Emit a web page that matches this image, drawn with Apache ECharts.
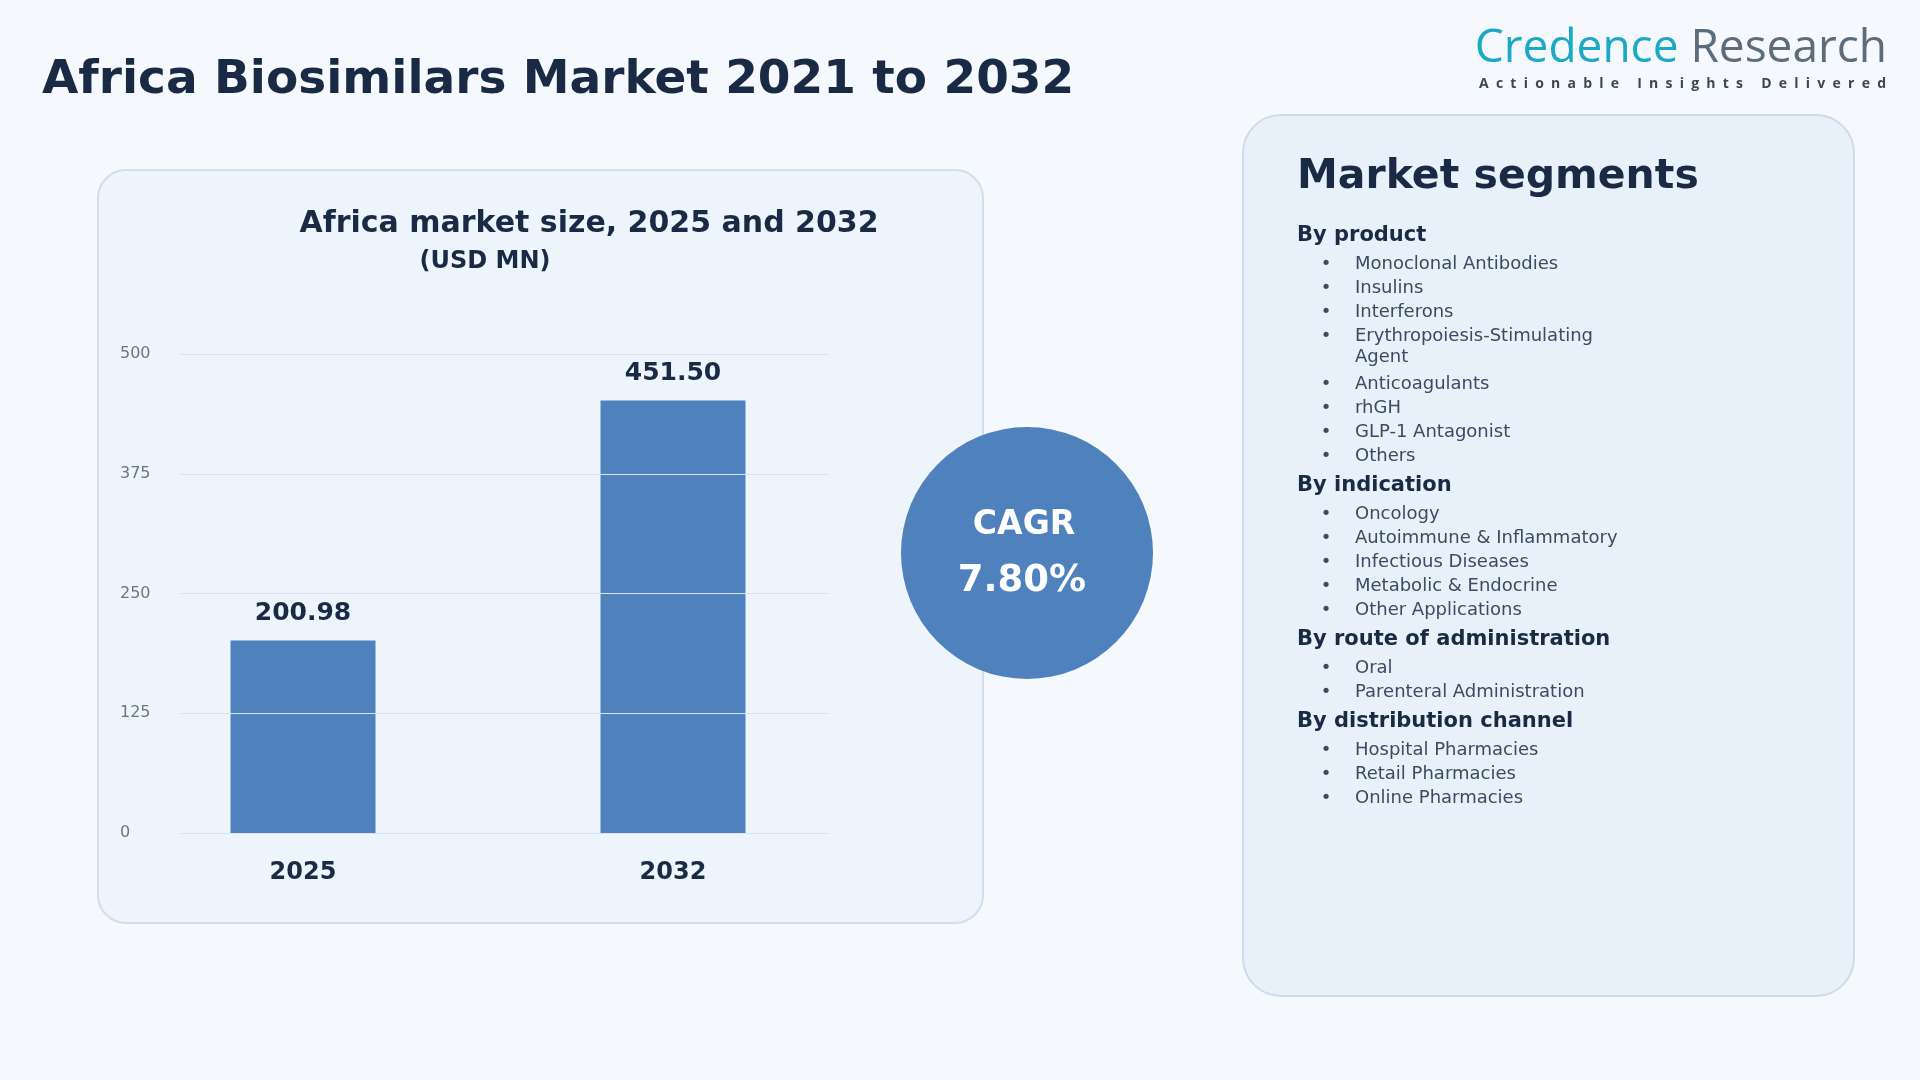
<!DOCTYPE html>
<html>
<head>
<meta charset="utf-8">
<title>Africa Biosimilars Market 2021 to 2032</title>
<script src="https://cdn.jsdelivr.net/npm/echarts@6.0.0/dist/echarts.min.js"></script>
<style>
  html, body { margin: 0; padding: 0; background: #f5f8fc; }
  #main { width: 1920px; height: 1080px; }
</style>
</head>
<body>
<div id="main"></div>
<script>
// chart data
const categories = ['2025', '2032'];
const marketValues = [200.98, 451.50];
const yMin = 0;
const yMax = 500;
const yStep = 125;
const cagrLabel = 'CAGR';
const cagrValue = '7.80%';

// texts
const mainTitle = 'Africa Biosimilars Market 2021 to 2032';
const chartTitle = 'Africa market size, 2025 and 2032';
const chartUnit = '(USD MN)';
const brandA = 'Credence';
const brandB = 'Research';
const tagline = 'Actionable Insights Delivered';

// market segments
const segmentsTitle = 'Market segments';
const segmentHeads = ['By product', 'By indication', 'By route of administration', 'By distribution channel'];
const byProduct = ['Monoclonal Antibodies', 'Insulins', 'Interferons', 'Erythropoiesis-Stimulating\nAgent', 'Anticoagulants', 'rhGH', 'GLP-1 Antagonist', 'Others'];
const byIndication = ['Oncology', 'Autoimmune & Inflammatory', 'Infectious Diseases', 'Metabolic & Endocrine', 'Other Applications'];
const byRoute = ['Oral', 'Parenteral Administration'];
const byChannel = ['Hospital Pharmacies', 'Retail Pharmacies', 'Online Pharmacies'];
const segmentItems = [byProduct, byIndication, byRoute, byChannel];

const FONT = '"DejaVu Sans", sans-serif';
const NAVY = '#1b2a44';

var chart = echarts.init(document.getElementById('main'));

function buildGraphic() {
  var g = [];
  // panels
  g.push({ type: 'rect', z: -1, shape: { x: 98, y: 170, width: 885, height: 753, r: 28 },
    style: { fill: '#edf4fc', stroke: '#d3deeb', lineWidth: 2 } });
  g.push({ type: 'rect', z: -1, shape: { x: 1243, y: 115, width: 611, height: 881, r: 38 },
    style: { fill: '#e8f0fa', stroke: '#cfdbe8', lineWidth: 2 } });

  // page title
  g.push({ type: 'text', z: 10, style: { text: mainTitle, x: 42, y: 81, font: 'bold 47px ' + FONT,
    fill: NAVY, textAlign: 'left', textVerticalAlign: 'middle' } });

  // chart titles
  g.push({ type: 'text', z: 10, style: { text: chartTitle, x: 589, y: 224, font: 'bold 30px ' + FONT,
    fill: NAVY, textAlign: 'center', textVerticalAlign: 'middle' } });
  g.push({ type: 'text', z: 10, style: { text: chartUnit, x: 485, y: 262, font: 'bold 24px ' + FONT,
    fill: NAVY, textAlign: 'center', textVerticalAlign: 'middle' } });

  // CAGR bubble
  g.push({ type: 'circle', z: 10, shape: { cx: 1027, cy: 553, r: 126 }, style: { fill: '#4f81bd' } });
  g.push({ type: 'text', z: 11, style: { text: cagrLabel, x: 1024, y: 525, font: 'bold 33px ' + FONT,
    fill: '#ffffff', textAlign: 'center', textVerticalAlign: 'middle' } });
  g.push({ type: 'text', z: 11, style: { text: cagrValue, x: 1022, y: 581, font: 'bold 37px ' + FONT,
    fill: '#ffffff', textAlign: 'center', textVerticalAlign: 'middle' } });

  // logo
  g.push({ type: 'text', z: 10, style: {
    text: '{a|' + brandA + '\u00a0}{b|' + brandB + '}', x: 1887, y: 49,
    textAlign: 'right', textVerticalAlign: 'middle',
    rich: {
      a: { font: '46px "Open Sans", sans-serif', fill: '#1ba9c6' },
      b: { font: '46px "Open Sans", sans-serif', fill: '#5c6c7b' }
    }
  } });
  // spaced tagline
  var ctx = document.createElement('canvas').getContext('2d');
  var tagFont = 'bold 14px "Open Sans", sans-serif';
  ctx.font = tagFont;
  var chars = tagline.split('');
  var widths = chars.map(function (c) { return ctx.measureText(c).width; });
  var total = widths.reduce(function (a, b) { return a + b; }, 0);
  var gap = (1886 - 1479 - total) / (chars.length - 1);
  var cx = 1479;
  chars.forEach(function (c, i) {
    if (c !== ' ') {
      g.push({ type: 'text', z: 10, style: { text: c, x: cx, y: 84, font: tagFont, fill: '#3c4753',
        textAlign: 'left', textVerticalAlign: 'middle' } });
    }
    cx += widths[i] + gap;
  });

  // market segments list
  g.push({ type: 'text', z: 10, style: { text: segmentsTitle, x: 1297, y: 177, font: 'bold 41px ' + FONT,
    fill: NAVY, textAlign: 'left', textVerticalAlign: 'middle' } });
  var y = 236;
  segmentHeads.forEach(function (head, gi) {
    g.push({ type: 'text', z: 10, style: { text: head, x: 1297, y: y, font: 'bold 21px ' + FONT,
      fill: NAVY, textAlign: 'left', textVerticalAlign: 'middle' } });
    y += 28;
    segmentItems[gi].forEach(function (item) {
      var lines = item.split('\n');
      g.push({ type: 'text', z: 10, style: { text: '\u2022', x: 1326, y: y, font: '18px ' + FONT,
        fill: '#3b4b60', textAlign: 'center', textVerticalAlign: 'middle' } });
      lines.forEach(function (ln, li) {
        g.push({ type: 'text', z: 10, style: { text: ln, x: 1355, y: y + li * 21, font: '18px ' + FONT,
          fill: '#3b4b60', textAlign: 'left', textVerticalAlign: 'middle' } });
      });
      y += 24 * lines.length;
    });
    y += 6;
  });
  return g;
}

chart.setOption({
  backgroundColor: '#f5f8fc',
  textStyle: { fontFamily: FONT },
  animation: false,
  graphic: buildGraphic(),
  grid: [
    { left: 180, top: 354, width: 649, height: 479 },
    { left: 118, top: 354, width: 740, height: 479 }
  ],
  xAxis: [
    { gridIndex: 0, type: 'category', data: categories, show: false },
    {
      gridIndex: 1, type: 'category', data: categories,
      axisLine: { show: false }, axisTick: { show: false }, splitLine: { show: false },
      axisLabel: { fontSize: 24, fontWeight: 'bold', color: NAVY, margin: 28, fontFamily: FONT }
    }
  ],
  yAxis: [
    {
      gridIndex: 0, type: 'value', min: yMin, max: yMax, interval: yStep, z: 5,
      axisLine: { show: false }, axisTick: { show: false },
      axisLabel: { align: 'left', margin: 60, fontSize: 16, color: '#6b7684', fontFamily: FONT },
      splitLine: { lineStyle: { color: '#d9e2ee', width: 1 } }
    },
    { gridIndex: 1, type: 'value', min: yMin, max: yMax, show: false }
  ],
  series: [
    {
      type: 'bar', xAxisIndex: 1, yAxisIndex: 1,
      data: marketValues,
      barWidth: 145,
      itemStyle: { color: '#4f81bd' },
      label: {
        show: true, position: 'top', distance: 14,
        fontSize: 25, fontWeight: 'bold', color: NAVY, fontFamily: FONT,
        formatter: function (p) { return p.value.toFixed(2); }
      }
    }
  ]
});
</script>
</body>
</html>
